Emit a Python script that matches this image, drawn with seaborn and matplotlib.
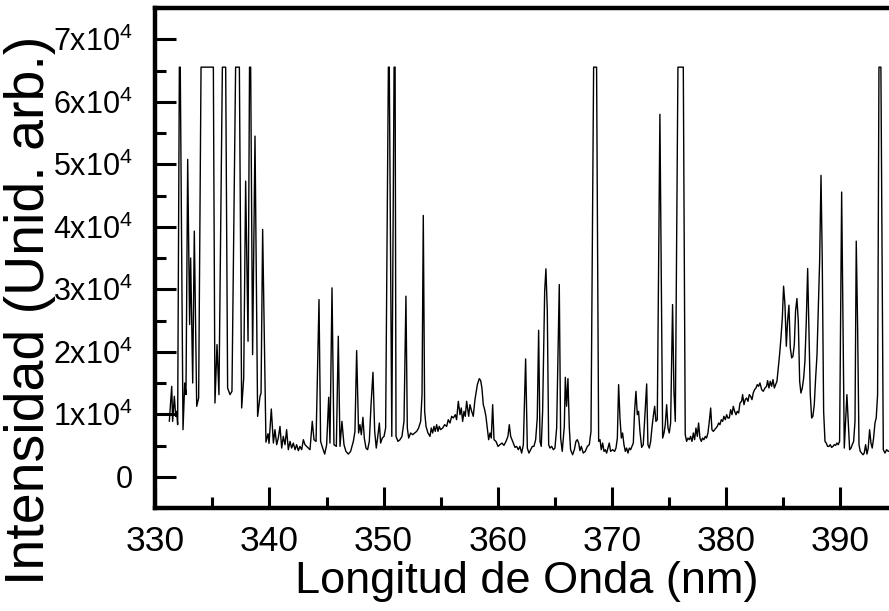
import numpy as np
import pandas as pd
import matplotlib
matplotlib.use("Agg")
import matplotlib.pyplot as plt
from matplotlib.ticker import MultipleLocator, FuncFormatter
import seaborn as sns

sns.set_style("ticks")
plt.rcParams['font.family'] = ['Liberation Sans', 'DejaVu Sans']
plt.rcParams['mathtext.fontset'] = 'custom'
plt.rcParams['mathtext.rm'] = 'Liberation Sans'
plt.rcParams['mathtext.default'] = 'regular'
plt.rcParams['text.color'] = 'black'
plt.rcParams['axes.labelcolor'] = 'black'
plt.rcParams['xtick.color'] = 'black'
plt.rcParams['ytick.color'] = 'black'

# spectrum (wavelength in nm, intensity in arb. units)
wavelength = [
    331.22, 331.43, 331.51, 331.66, 331.78, 331.86, 331.95, 332.10, 332.18, 332.42,
    332.57, 332.68, 332.83, 333.00, 333.09, 333.27, 333.41, 333.62, 333.79, 334.00,
    335.08, 335.22, 335.40, 335.57, 335.87, 336.16, 336.33, 336.54, 336.71, 337.03,
    337.36, 337.56, 337.74, 337.91, 338.12, 338.25, 338.35, 338.52, 338.73, 338.96,
    339.17, 339.26, 339.40, 339.69, 339.87, 339.96, 340.16,
    340.34, 340.48, 340.63, 340.77, 340.92, 341.07, 341.21, 341.36, 341.50, 341.65,
    341.80, 341.94, 342.09, 342.24, 342.38, 342.53, 342.67, 342.82, 342.97, 343.11,
    343.26, 343.40, 343.55, 343.75, 343.90, 344.08, 344.34, 344.48, 344.66, 344.84,
    345.01, 345.19, 345.30, 345.48, 345.65, 345.86, 346.03, 346.18, 346.35, 346.53,
    346.70, 346.91, 347.11, 347.35, 347.49, 347.64, 347.81, 347.93, 348.05, 348.19,
    348.31, 348.46, 348.60, 348.75, 348.90, 349.07, 349.22, 349.36, 349.51, 349.63,
    349.74, 349.89, 350.04, 350.18, 350.42, 350.50, 350.72, 350.92, 351.01, 351.09,
    351.26, 351.44, 351.61, 351.79, 351.96, 352.08, 352.20, 352.37, 352.55, 352.72,
    352.90, 353.07, 353.25, 353.37, 353.48, 353.60, 353.72, 353.89, 354.07, 354.18,
    354.30, 354.42, 354.53, 354.65, 354.77, 354.88, 355.00, 355.18, 355.35, 355.53,
    355.67, 355.82, 355.97, 356.11, 356.29, 356.40, 356.55, 356.70, 356.81, 356.93,
    357.05, 357.16, 357.28, 357.46, 357.57, 357.72, 357.86, 358.01, 358.22, 358.39,
    358.51, 358.62, 358.74, 358.86, 358.97, 359.09, 359.21, 359.33, 359.44, 359.56,
    359.68, 359.85, 360.03, 360.20, 360.38, 360.55, 360.73, 360.90, 361.02, 361.14,
    361.31, 361.52,
    361.66, 361.81, 361.95, 362.10, 362.25, 362.45, 362.60, 362.74, 362.89, 363.04,
    363.18, 363.33, 363.47, 363.59, 363.71, 363.82, 363.94, 364.12, 364.23, 364.35,
    364.47, 364.58, 364.73, 364.88, 365.02, 365.17, 365.40, 365.52, 365.66, 365.84,
    365.93, 366.04, 366.16, 366.28, 366.39, 366.57, 366.72, 366.86, 366.98, 367.10,
    367.21, 367.33, 367.50, 367.68, 367.86, 368.03, 368.18, 368.41, 368.67, 368.85,
    368.97, 369.08, 369.20, 369.32, 369.43, 369.55, 369.67, 369.78, 369.90, 370.08,
    370.25, 370.37, 370.49, 370.60, 370.72, 370.84, 370.95, 371.07, 371.19, 371.30,
    371.42, 371.54, 371.65, 371.77, 371.89, 372.00,
    372.12, 372.24, 372.35, 372.47, 372.62, 372.76, 372.91, 373.06, 373.17, 373.29,
    373.41, 373.52, 373.64, 373.76, 373.87, 373.99, 374.22, 374.46, 374.58, 374.69,
    374.81, 374.93, 375.04, 375.16, 375.33, 375.45, 375.57, 375.80, 376.27, 376.44,
    376.56, 376.68, 376.80, 376.91, 377.03, 377.15, 377.26, 377.38, 377.50, 377.61,
    377.73, 377.85, 377.96, 378.08, 378.20, 378.31, 378.43, 378.55, 378.67, 378.78,
    378.90, 379.02, 379.13, 379.25, 379.37, 379.48, 379.60, 379.72, 379.83, 379.95,
    380.07, 380.18, 380.30, 380.42, 380.54, 380.65, 380.77, 380.89, 381.00, 381.12,
    381.24, 381.38, 381.47, 381.59, 381.70, 381.82, 381.94, 382.05, 382.17, 382.29,
    382.40, 382.52, 382.64, 382.75, 382.87, 382.99,
    383.14, 383.28, 383.43, 383.57, 383.66, 383.78, 383.89, 384.01, 384.13, 384.25,
    384.36, 384.48, 384.60, 384.71, 384.83, 384.95, 385.06, 385.18, 385.30, 385.41,
    385.53, 385.65, 385.77, 385.88, 386.00, 386.11, 386.23, 386.35, 386.47, 386.58,
    386.70, 386.82, 386.93, 387.05, 387.17, 387.28, 387.40, 387.52, 387.63, 387.75,
    387.87, 387.99, 388.10, 388.22, 388.34, 388.45, 388.57, 388.69, 388.80, 388.92,
    389.04, 389.15, 389.27, 389.39, 389.50, 389.62, 389.74, 389.85, 389.97, 390.15,
    390.38, 390.61, 390.85, 390.97, 391.08, 391.20, 391.32, 391.43, 391.55, 391.67,
    391.78, 391.90, 392.02, 392.13, 392.25, 392.37, 392.48, 392.60, 392.72, 392.83,
    392.95, 393.07, 393.18, 393.30, 393.42, 393.59, 393.80, 393.95, 394.09, 394.24,
    394.40,
]
intensity = [
    8860, 14470, 8860, 12870, 9670, 10470, 8330, 65535, 65535, 7530,
    15000, 13140, 50780, 24350, 35000, 15000, 39300, 11270, 12600, 65535,
    65535, 11800, 21150, 13140, 65535, 65535, 14200, 13140, 13670, 65535,
    65535, 11000, 15800, 47300, 21680, 65535, 65535, 19540, 54500, 9660,
    12870, 13400, 39570, 5550, 6890, 5340, 10840,
    5390, 7530, 5130, 6190, 8060, 4590, 6460, 5130, 7530, 4330,
    5660, 4590, 5390, 4330, 5130, 4170, 4860, 4330, 5930, 5130,
    4860, 4590, 4330, 8860, 5930, 5660, 28350, 5660, 4590, 3630,
    5130, 12710, 5390, 30220, 5130, 4860, 22480, 4860, 8860, 5130,
    4060, 3630, 4060, 5660, 7260, 20190, 7000, 8330, 6730, 9510,
    6190, 4590, 4330, 5660, 11530, 16710, 7260, 4590, 6730, 8600,
    5390, 6190, 6460, 7800, 65535, 65535, 6460, 65535, 65535, 6460,
    5660, 5930, 6460, 8860, 28890, 7800, 6190, 7000, 6730, 7000,
    7260, 7800, 8860, 13140, 41810, 10470, 8060, 7000, 6460, 7800,
    7000, 8060, 7260, 8330, 7260, 8060, 7530, 7800, 8330, 8060,
    9130, 8600, 9670, 9400, 9930, 9130, 12070, 9930, 11000, 8860,
    10470, 9670, 12070, 9670, 11530, 10470, 9670, 12340, 14740, 15700,
    15380, 14200, 11530, 10730, 9670, 7800, 5930, 7000, 6190, 11530,
    5930, 5660, 4860, 5130, 5390, 5020, 5660, 6460, 8330, 6460,
    5660, 4700,
    4860, 4330, 4860, 3790, 5130, 18850, 4590, 3790, 4330, 4860,
    4860, 5930, 9400, 23440, 5660, 4860, 10470, 29690, 33270, 26490,
    5130, 4590, 4860, 4330, 4590, 7800, 30760, 6190, 4060, 8060,
    15910, 11270, 15700, 7800, 4330, 3520, 4330, 5660, 5930, 5390,
    4170, 4860, 3790, 4060, 4860, 5130, 7260, 65535, 65535, 5660,
    5930, 4330, 5390, 4060, 4330, 3790, 4590, 5390, 4060, 4330,
    4060, 4590, 6190, 14740, 9400, 6190, 7000, 5130, 4060, 4590,
    3790, 4590, 4330, 4860, 5390, 10470,
    13670, 9930, 10470, 7260, 4700, 5130, 9930, 14850, 5130, 4590,
    5660, 7800, 9670, 11270, 8860, 9130, 57990, 6190, 7000, 8330,
    11530, 7800, 7000, 8600, 27550, 13670, 8860, 65535, 65535, 6730,
    5660, 6190, 5930, 6460, 5660, 7000, 5930, 7800, 6460, 8600,
    6190, 5660, 6190, 5930, 6460, 6190, 7000, 8860, 11000, 7530,
    7260, 7530, 7800, 8060, 8600, 8330, 9130, 8860, 9670, 9130,
    9930, 9400, 9400, 10730, 9930, 11270, 10470, 9930, 10470, 10200,
    11800, 12070, 13140, 11530, 12340, 12600, 12070, 13140, 12870, 12340,
    13400, 13940, 14200, 14740, 14470, 15000,
    13940, 13670, 14200, 14470, 15380, 14200, 15270, 14470, 15540, 14200,
    14740, 15270, 17410, 19540, 22210, 25420, 30490, 27550, 20880, 24880,
    27450, 20610, 19010, 19280, 21150, 26490, 28520, 24880, 15270, 13400,
    14200, 15810, 18480, 24880, 33320, 23820, 13140, 9400, 9670, 11530,
    15810, 19540, 26490, 34500, 48220, 34500, 10470, 5660, 5390, 4860,
    4860, 5130, 4700, 4860, 5130, 5020, 5390, 5130, 5660, 45550,
    4590, 13140, 4330, 4590, 5130, 5660, 8860, 37700, 23820, 5130,
    4060, 3790, 3520, 3790, 5130, 3630, 4590, 7530, 5390, 4590,
    6190, 8600, 9400, 13140, 65535, 65535, 4330, 3790, 4330, 4060,
    4200,
]

x_limits = (330, 394.3)
y_limits = (-5000, 75000)
x_label = "Longitud de Onda (nm)"
y_label = "Intensidad (Unid. arb.)"

df = pd.DataFrame({"wl": wavelength, "I": intensity})

fig = plt.figure(figsize=(8.89, 6.11), dpi=100)
ax = fig.add_axes([155.4 / 889, 103 / 611, 733.6 / 889, 500 / 611])

sns.lineplot(data=df, x="wl", y="I", ax=ax, color="black", linewidth=1.0,
             sort=False, estimator=None)

ax.set_xlim(*x_limits)
ax.set_ylim(*y_limits)

ax.xaxis.set_major_locator(MultipleLocator(10))
ax.xaxis.set_minor_locator(MultipleLocator(5))
ax.yaxis.set_major_locator(MultipleLocator(10000))
ax.yaxis.set_minor_locator(MultipleLocator(5000))


def fmt_y(v, pos):
    k = int(round(v / 10000))
    if k == 0:
        return "0"
    return r"$\mathregular{%dx10^{4}}$" % k


ax.yaxis.set_major_formatter(FuncFormatter(fmt_y))

for s in ["left", "bottom", "top"]:
    ax.spines[s].set_linewidth(3.2)
    ax.spines[s].set_color("black")
ax.spines["right"].set_visible(False)

ax.tick_params(axis="both", which="major", direction="in", length=15, width=2.2,
               color="black")
ax.tick_params(axis="both", which="minor", direction="in", length=8, width=2.2,
               color="black")
ax.tick_params(axis="x", which="major", labelsize=25.5, pad=12)
ax.tick_params(axis="y", which="major", labelsize=22, pad=16)

ax.set_xlabel(x_label, fontsize=32.5, va="center")
ax.xaxis.set_label_coords(0.5066, -0.146)
ax.set_ylabel(y_label, fontsize=40, va="center", ha="center")
ax.yaxis.set_label_coords(-0.171, 0.396)

fig.savefig("out.png", dpi=100)
